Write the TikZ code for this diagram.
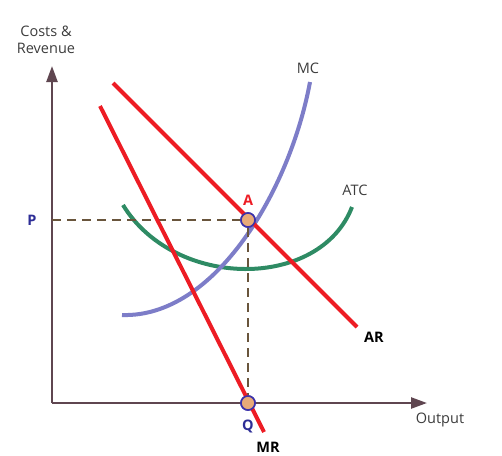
\documentclass[tikz,border=0pt]{standalone}
\usepackage{fontspec}
\setmainfont{Open Sans}
\usetikzlibrary{arrows.meta,positioning,calc}

\definecolor{curvered}{RGB}{237,28,36}
\definecolor{mcblue}{RGB}{125,125,200}
\definecolor{atcgreen}{RGB}{46,139,100}
\definecolor{axisbrown}{RGB}{95,70,80}
\definecolor{dashbrown}{RGB}{105,85,60}
\definecolor{labelgrey}{RGB}{60,60,60}
\definecolor{pointfill}{RGB}{232,170,120}
\definecolor{pointblue}{RGB}{60,50,170}
\definecolor{markblue}{RGB}{45,45,150}

\begin{document}
\begin{tikzpicture}[x=1pt,y=1pt,yscale=-1,
  axisline/.style={draw=axisbrown,line width=2.4,-{Triangle[length=16,width=11]}},
  guideline/.style={draw=dashbrown,line width=1.1,dash pattern=on 9 off 6},
  redcurve/.style={draw=curvered,line width=4},
  mccurve/.style={draw=mcblue,line width=4},
  atccurve/.style={draw=atcgreen,line width=4},
  eqpoint/.style={circle,draw=pointblue,fill=pointfill,line width=1.6,minimum size=14,inner sep=0},
  curvelabel/.style={font=\fontsize{14.5}{17}\selectfont,text=labelgrey},
  boldlabel/.style={font=\fontsize{14.5}{17}\selectfont\bfseries,text=black},
  marklabel/.style={font=\fontsize{14.5}{17}\selectfont\bfseries,text=markblue}]
\useasboundingbox (0,0) rectangle (502,455);

%Axes
\coordinate (origin) at (52,403);
\coordinate (ytip) at (52,66);
\coordinate (xtip) at (427,403);
\draw [axisline] (origin) -- (ytip);
\draw [axisline] (origin) -- (xtip);

%Shape: ATC curve
\draw [atccurve] (123,205) .. controls (175,290) and (320,290) .. (352,207);
%Shape: MC curve
\draw [mccurve] (122,315) .. controls (215,318) and (290,190) .. (310,82);

%Points
\node [eqpoint] (A) at (248,220) {};
\node [eqpoint] (Q) at (248,403) {};
\coordinate (pP) at (52,220);

%Dashed guides
\draw [guideline] (pP) -- (A.west);
\draw [guideline] (A.south) -- (Q.north);

%Shape: AR line
\coordinate (arstart) at (113,83);
\coordinate (arend) at (357,327);
\draw [redcurve] (arstart) -- (arend);
%Shape: MR line
\coordinate (mrstart) at (100,106);
\coordinate (mrend) at (264,432);
\draw [redcurve] (mrstart) -- (mrend);

%Points on top
\node [eqpoint] at (A) {};
\node [eqpoint] at (Q) {};

% Text Node
\node [curvelabel,align=center] (ylabel) at (46,40) {Costs \&\\Revenue};
% Text Node
\node [curvelabel] (xlabel) at (440,420) {Output};
% Text Node
\node [curvelabel] (mclabel) at (308,68) {MC};
% Text Node
\node [curvelabel] (atclabel) at (355,190) {ATC};
% Text Node
\node [boldlabel] (arlabel) at (374,337) {AR};
% Text Node
\node [boldlabel] (mrlabel) at (268,447) {MR};
% Text Node
\node [boldlabel,text=curvered] (alabel) at (248,200) {A};
% Text Node
\node [marklabel] (qlabel) at (248,426) {Q};
% Text Node
\node [marklabel] (plabel) at (32,220) {P};

\end{tikzpicture}
\end{document}
